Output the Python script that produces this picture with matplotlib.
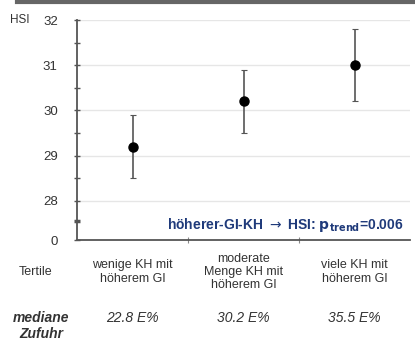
import numpy as np
import matplotlib.pyplot as plt

plt.rcParams['font.family'] = ['Liberation Sans', 'DejaVu Sans']

# data
tertile_labels = ['wenige KH mit\nhöherem GI', 'moderate\nMenge KH mit\nhöherem GI', 'viele KH mit\nhöherem GI']
median_intake = ['22.8 E%', '30.2 E%', '35.5 E%']
hsi_mean = [29.2, 30.2, 31.0]
hsi_low = [28.5, 29.5, 30.2]
hsi_high = [29.9, 30.9, 31.8]
y_ticks = [28, 29, 30, 31, 32]
zero_pos = 27.13  # where the broken axis shows 0

fig = plt.figure(figsize=(4.15, 3.4), dpi=100)
ax = fig.add_axes([0.186, 0.294, 0.802, 0.647])

x = np.arange(len(hsi_mean))
mean = np.array(hsi_mean)
err = [mean - np.array(hsi_low), np.array(hsi_high) - mean]
ax.errorbar(x, mean, yerr=err, fmt='o', color='black', ecolor='#555555',
            elinewidth=1.2, capsize=2, capthick=0.8, markersize=6.5, zorder=3)

ax.set_xlim(-0.5, 2.5)
ax.set_ylim(zero_pos, 32)
ax.set_yticks([zero_pos] + y_ticks)
ax.set_yticklabels(['0'] + [str(t) for t in y_ticks], fontsize=9.5, color='#333333')
ax.set_yticks([28.5, 29.5, 30.5, 31.5], minor=True)
ax.tick_params(axis='y', which='both', direction='inout', length=4, width=1, color='#555555', pad=12)
for t in y_ticks:
    ax.axhline(t, color='#e6e6e6', lw=1, zorder=0)
# axis break mark
ax.plot([0], [27.55], marker='_', ms=4, mew=2.5, color='#555555', clip_on=False, transform=ax.get_yaxis_transform())

ax.set_xticks([0.5, 1.5])
ax.set_xticklabels([])
ax.tick_params(axis='x', direction='inout', length=4, color='#888888')
for s in ['top', 'right']:
    ax.spines[s].set_visible(False)
ax.spines['left'].set_color('#555555')
ax.spines['left'].set_linewidth(1.3)
ax.spines['bottom'].set_color('#555555')
ax.spines['bottom'].set_linewidth(1.3)

ax.text(2.44, 27.47, r'höherer-GI-KH $\rightarrow$ HSI: $\mathbf{p_{trend}}$=0.006', ha='right', va='center',
        fontsize=10, fontweight='bold', color='#1f3a7a')

fig.text(0.025, 0.94, 'HSI', fontsize=8.5, color='#333333', va='center')

# table below
fig.text(0.085, 0.2, 'Tertile', fontsize=9, color='#333333', va='center', ha='center')
fig.text(0.1, 0.04, 'mediane\nZufuhr', fontsize=10, color='#333333', va='center', ha='center',
         style='italic', fontweight='bold', linespacing=1.2)
for i in range(3):
    ax.annotate(tertile_labels[i], xy=(x[i], 0), xycoords=('data', 'figure fraction'),
                xytext=(0, 0.2 * 340), textcoords='offset pixels',
                ha='center', va='center', fontsize=9, color='#333333', linespacing=1.15)
    ax.annotate(median_intake[i], xy=(x[i], 0), xycoords=('data', 'figure fraction'),
                xytext=(0, 0.065 * 340), textcoords='offset pixels',
                ha='center', va='center', fontsize=10, color='#333333', style='italic')

# top rule
fig.add_artist(plt.Line2D([0.04, 1.0], [0.995, 0.995], color='#666666', lw=3))

fig.savefig('out.png', dpi=100)
